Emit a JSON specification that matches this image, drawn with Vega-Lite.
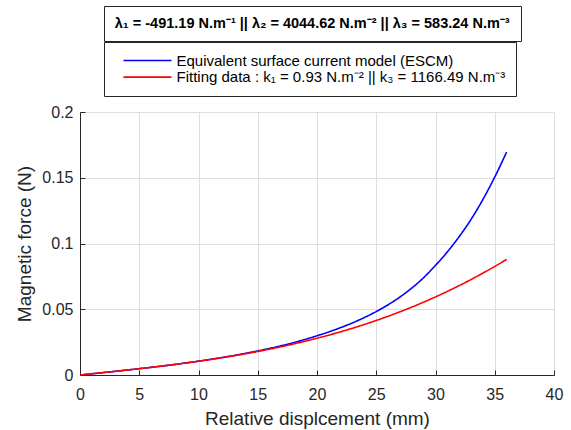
{
  "$schema": "https://vega.github.io/schema/vega-lite/v6.json",
  "width": 474,
  "height": 263,
  "autosize": "none",
  "padding": {"left": 80, "top": 112, "right": 17, "bottom": 55},
  "background": "white",
  "config": {
    "font": "Liberation Sans",
    "view": {"stroke": null},
    "axis": {
      "domainColor": "#262626",
      "tickColor": "#262626",
      "labelColor": "#262626",
      "titleColor": "#262626",
      "labelFont": "Liberation Sans",
      "titleFont": "Liberation Sans",
      "labelFontSize": 16,
      "titleFontSize": 19,
      "titleFontWeight": "normal",
      "gridColor": "#dfdfdf",
      "gridWidth": 1,
      "tickSize": -5,
      "domainWidth": 1
    }
  },
  "data": {
    "values": [
      {"x": 0, "F": 0, "s": "ESCM"}, {"x": 1, "F": 0.00093, "s": "ESCM"}, {"x": 2, "F": 0.00187, "s": "ESCM"},
      {"x": 3, "F": 0.00282, "s": "ESCM"}, {"x": 4, "F": 0.00379, "s": "ESCM"}, {"x": 5, "F": 0.0048, "s": "ESCM"},
      {"x": 6, "F": 0.00583, "s": "ESCM"}, {"x": 7, "F": 0.00691, "s": "ESCM"}, {"x": 8, "F": 0.00805, "s": "ESCM"},
      {"x": 9, "F": 0.00925, "s": "ESCM"}, {"x": 10, "F": 0.01052, "s": "ESCM"}, {"x": 11, "F": 0.01188, "s": "ESCM"},
      {"x": 12, "F": 0.01333, "s": "ESCM"}, {"x": 13, "F": 0.01485, "s": "ESCM"}, {"x": 14, "F": 0.01652, "s": "ESCM"},
      {"x": 15, "F": 0.01829, "s": "ESCM"}, {"x": 16, "F": 0.02021, "s": "ESCM"}, {"x": 17, "F": 0.02229, "s": "ESCM"},
      {"x": 18, "F": 0.02454, "s": "ESCM"}, {"x": 19, "F": 0.02707, "s": "ESCM"}, {"x": 20, "F": 0.02983, "s": "ESCM"},
      {"x": 21, "F": 0.03278, "s": "ESCM"}, {"x": 22, "F": 0.03604, "s": "ESCM"}, {"x": 23, "F": 0.03966, "s": "ESCM"},
      {"x": 24, "F": 0.04371, "s": "ESCM"}, {"x": 25, "F": 0.04827, "s": "ESCM"}, {"x": 26, "F": 0.05342, "s": "ESCM"},
      {"x": 27, "F": 0.05932, "s": "ESCM"}, {"x": 28, "F": 0.06613, "s": "ESCM"}, {"x": 29, "F": 0.07405, "s": "ESCM"},
      {"x": 30, "F": 0.08338, "s": "ESCM"}, {"x": 31, "F": 0.09363, "s": "ESCM"}, {"x": 32, "F": 0.10525, "s": "ESCM"},
      {"x": 33, "F": 0.11836, "s": "ESCM"}, {"x": 34, "F": 0.13347, "s": "ESCM"}, {"x": 35, "F": 0.15056, "s": "ESCM"},
      {"x": 36, "F": 0.1695, "s": "ESCM"},
      {"x": 0, "F": 0, "s": "Fit"}, {"x": 1, "F": 0.000931, "s": "Fit"}, {"x": 2, "F": 0.00187, "s": "Fit"},
      {"x": 3, "F": 0.00282, "s": "Fit"}, {"x": 4, "F": 0.00379, "s": "Fit"}, {"x": 5, "F": 0.0048, "s": "Fit"},
      {"x": 6, "F": 0.00583, "s": "Fit"}, {"x": 7, "F": 0.00691, "s": "Fit"}, {"x": 8, "F": 0.00804, "s": "Fit"},
      {"x": 9, "F": 0.00922, "s": "Fit"}, {"x": 10, "F": 0.01047, "s": "Fit"}, {"x": 11, "F": 0.01178, "s": "Fit"},
      {"x": 12, "F": 0.01318, "s": "Fit"}, {"x": 13, "F": 0.01465, "s": "Fit"}, {"x": 14, "F": 0.01622, "s": "Fit"},
      {"x": 15, "F": 0.01789, "s": "Fit"}, {"x": 16, "F": 0.01966, "s": "Fit"}, {"x": 17, "F": 0.02154, "s": "Fit"},
      {"x": 18, "F": 0.02354, "s": "Fit"}, {"x": 19, "F": 0.02567, "s": "Fit"}, {"x": 20, "F": 0.02793, "s": "Fit"},
      {"x": 21, "F": 0.03033, "s": "Fit"}, {"x": 22, "F": 0.03288, "s": "Fit"}, {"x": 23, "F": 0.03558, "s": "Fit"},
      {"x": 24, "F": 0.03845, "s": "Fit"}, {"x": 25, "F": 0.04148, "s": "Fit"}, {"x": 26, "F": 0.04468, "s": "Fit"},
      {"x": 27, "F": 0.04807, "s": "Fit"}, {"x": 28, "F": 0.05165, "s": "Fit"}, {"x": 29, "F": 0.05542, "s": "Fit"},
      {"x": 30, "F": 0.0594, "s": "Fit"}, {"x": 31, "F": 0.06358, "s": "Fit"}, {"x": 32, "F": 0.06799, "s": "Fit"},
      {"x": 33, "F": 0.07261, "s": "Fit"}, {"x": 34, "F": 0.07747, "s": "Fit"}, {"x": 35, "F": 0.08256, "s": "Fit"},
      {"x": 36, "F": 0.0879, "s": "Fit"}
    ]
  },
  "mark": {"type": "line", "strokeWidth": 1.6, "interpolate": "monotone"},
  "encoding": {
    "x": {
      "field": "x", "type": "quantitative",
      "scale": {"domain": [0, 40], "nice": false, "zero": false},
      "axis": {"title": "Relative displcement (mm)", "values": [0,5,10,15,20,25,30,35,40], "labelPadding": 16, "titlePadding": 7, "labelFlush": false}
    },
    "y": {
      "field": "F", "type": "quantitative",
      "scale": {"domain": [0, 0.2], "nice": false},
      "axis": {"title": "Magnetic force (N)", "values": [0, 0.05, 0.1, 0.15, 0.2], "format": "~g", "labelPadding": 12, "titlePadding": 7, "labelFlush": false}
    },
    "strokeDash": {
      "datum": "lambda",
      "legend": {
        "orient": "none",
        "legendX": 24,
        "legendY": -106,
        "values": [],
        "title": "λ₁ = -491.19 N.m⁻¹ || λ₂ = 4044.62 N.m⁻² || λ₃ = 583.24 N.m⁻³",
        "titleFontSize": 14.5,
        "titleFontWeight": "bold",
        "titleColor": "black",
        "titleAnchor": "start",
        "titleLimit": 0,
        "titlePadding": 0,
        "strokeColor": "#262626",
        "fillColor": "white",
        "padding": 10.7
      }
    },
    "color": {
      "field": "s", "type": "nominal",
      "scale": {"domain": ["ESCM", "Fit"], "range": ["#0000ff", "#ff0000"]},
      "legend": {
        "orient": "none",
        "legendX": 24,
        "legendY": -70,
        "title": null,
        "labelExpr": "datum.label == 'ESCM' ? 'Equivalent surface current model (ESCM)' : 'Fitting data : k₁ = 0.93 N.m⁻² || k₃ = 1166.49 N.m⁻³'",
        "labelFontSize": 15,
        "labelColor": "black",
        "labelLimit": 0,
        "labelOffset": 21,
        "symbolType": "M-3.43,0H3.43",
        "symbolSize": 196,
        "symbolStrokeWidth": 1.6,
        "symbolOffset": 25,
        "rowPadding": 0.6,
        "strokeColor": "#262626",
        "fillColor": "white",
        "padding": 10.5
      }
    }
  }
}
